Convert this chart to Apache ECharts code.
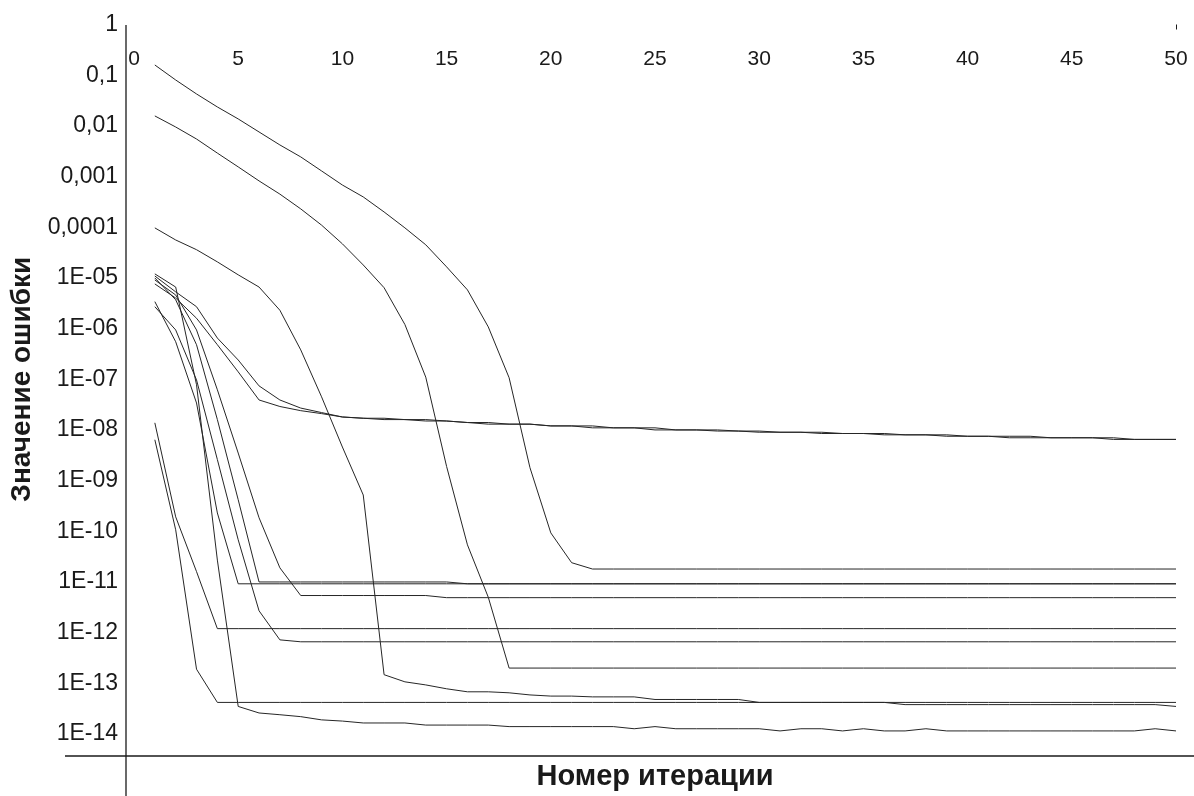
<!DOCTYPE html>
<html>
<head>
<meta charset="utf-8">
<script src="https://cdn.jsdelivr.net/npm/echarts@6/dist/echarts.min.js"></script>
<style>
  html, body { margin: 0; padding: 0; background: #fff; }
  #chart { width: 1194px; height: 796px; }
</style>
</head>
<body>
<div id="chart"></div>
<script>
// Iteration numbers (x) and tick labels
const iterations = [1,2,3,4,5,6,7,8,9,10,11,12,13,14,15,16,17,18,19,20,21,22,23,24,25,
                    26,27,28,29,30,31,32,33,34,35,36,37,38,39,40,41,42,43,44,45,46,47,48,49,50];
const xTickLabels = ['0','5','10','15','20','25','30','35','40','45','50'];
const yTickLabels = ['1','0,1','0,01','0,001','0,0001','1E-05','1E-06','1E-07','1E-08',
                     '1E-09','1E-10','1E-11','1E-12','1E-13','1E-14'];

// Error value per iteration, one array per run
const runA = [0.159,0.0804,0.0426,0.0236,0.0137,0.00758,0.0042,0.00244,0.00129,6.8e-4,
  3.96e-4,2.0e-4,9.7e-5,4.5e-5,1.65e-5,5.8e-6,1.08e-6,1.07e-7,1.8e-9,9.3e-11,
  2.4e-11,1.8e-11,1.8e-11,1.8e-11,1.8e-11,1.8e-11,1.8e-11,1.8e-11,1.8e-11,1.8e-11,
  1.8e-11,1.8e-11,1.8e-11,1.8e-11,1.8e-11,1.8e-11,1.8e-11,1.8e-11,1.8e-11,1.8e-11,
  1.8e-11,1.8e-11,1.8e-11,1.8e-11,1.8e-11,1.8e-11,1.8e-11,1.8e-11,1.8e-11,1.8e-11];
const runB = [0.0157,0.0095,0.0055,0.0029,0.00155,8.2e-4,4.5e-4,2.3e-4,1.1e-4,4.7e-5,
  1.8e-5,6.4e-6,1.2e-6,1.1e-7,1.9e-9,5.4e-11,5.0e-12,2.0e-13,2.0e-13,2.0e-13,
  2.0e-13,2.0e-13,2.0e-13,2.0e-13,2.0e-13,2.0e-13,2.0e-13,2.0e-13,2.0e-13,2.0e-13,
  2.0e-13,2.0e-13,2.0e-13,2.0e-13,2.0e-13,2.0e-13,2.0e-13,2.0e-13,2.0e-13,2.0e-13,
  2.0e-13,2.0e-13,2.0e-13,2.0e-13,2.0e-13,2.0e-13,2.0e-13,2.0e-13,2.0e-13,2.0e-13];
const runC = [9.7e-5,5.6e-5,3.6e-5,2.07e-5,1.15e-5,6.6e-6,2.3e-6,3.8e-7,4.5e-8,4.6e-9,
  5.2e-10,1.48e-13,1.07e-13,9.3e-14,7.8e-14,6.8e-14,6.8e-14,6.5e-14,5.9e-14,5.6e-14,
  5.6e-14,5.4e-14,5.4e-14,5.4e-14,4.8e-14,4.8e-14,4.8e-14,4.8e-14,4.8e-14,4.2e-14,
  4.2e-14,4.2e-14,4.2e-14,4.2e-14,4.2e-14,4.2e-14,3.8e-14,3.8e-14,3.8e-14,3.8e-14,
  3.8e-14,3.8e-14,3.8e-14,3.8e-14,3.8e-14,3.8e-14,3.8e-14,3.8e-14,3.8e-14,3.5e-14];
const runD = [1.09e-5,5.3e-6,2.7e-6,6.5e-7,2.4e-7,7.4e-8,3.9e-8,2.7e-8,2.2e-8,1.8e-8,
  1.7e-8,1.7e-8,1.6e-8,1.6e-8,1.5e-8,1.4e-8,1.4e-8,1.3e-8,1.3e-8,1.2e-8,
  1.2e-8,1.2e-8,1.1e-8,1.1e-8,1.1e-8,1.0e-8,1.0e-8,1.0e-8,9.5e-9,9.5e-9,
  9.0e-9,9.0e-9,9.0e-9,8.5e-9,8.5e-9,8.5e-9,8.0e-9,8.0e-9,8.0e-9,7.5e-9,
  7.5e-9,7.5e-9,7.5e-9,7.0e-9,7.0e-9,7.0e-9,7.0e-9,6.5e-9,6.5e-9,6.5e-9];
const runE = [7.6e-6,4.0e-6,1.6e-6,4.8e-7,1.4e-7,3.9e-8,2.9e-8,2.4e-8,2.1e-8,1.8e-8,
  1.7e-8,1.6e-8,1.6e-8,1.5e-8,1.5e-8,1.4e-8,1.3e-8,1.3e-8,1.3e-8,1.2e-8,
  1.2e-8,1.1e-8,1.1e-8,1.1e-8,1.0e-8,1.0e-8,1.0e-8,9.5e-9,9.5e-9,9.0e-9,
  9.0e-9,9.0e-9,8.5e-9,8.5e-9,8.5e-9,8.0e-9,8.0e-9,8.0e-9,7.5e-9,7.5e-9,
  7.5e-9,7.0e-9,7.0e-9,7.0e-9,7.0e-9,7.0e-9,6.5e-9,6.5e-9,6.5e-9,6.5e-9];
const runF = [1.38e-8,1.93e-10,1.6e-11,1.2e-12,1.2e-12,1.2e-12,1.2e-12,1.2e-12,1.2e-12,1.2e-12,
  1.2e-12,1.2e-12,1.2e-12,1.2e-12,1.2e-12,1.2e-12,1.2e-12,1.2e-12,1.2e-12,1.2e-12,
  1.2e-12,1.2e-12,1.2e-12,1.2e-12,1.2e-12,1.2e-12,1.2e-12,1.2e-12,1.2e-12,1.2e-12,
  1.2e-12,1.2e-12,1.2e-12,1.2e-12,1.2e-12,1.2e-12,1.2e-12,1.2e-12,1.2e-12,1.2e-12,
  1.2e-12,1.2e-12,1.2e-12,1.2e-12,1.2e-12,1.2e-12,1.2e-12,1.2e-12,1.2e-12,1.2e-12];
const runG = [6.4e-9,1.07e-10,1.9e-13,4.2e-14,4.2e-14,4.2e-14,4.2e-14,4.2e-14,4.2e-14,4.2e-14,
  4.2e-14,4.2e-14,4.2e-14,4.2e-14,4.2e-14,4.2e-14,4.2e-14,4.2e-14,4.2e-14,4.2e-14,
  4.2e-14,4.2e-14,4.2e-14,4.2e-14,4.2e-14,4.2e-14,4.2e-14,4.2e-14,4.2e-14,4.2e-14,
  4.2e-14,4.2e-14,4.2e-14,4.2e-14,4.2e-14,4.2e-14,4.2e-14,4.2e-14,4.2e-14,4.2e-14,
  4.2e-14,4.2e-14,4.2e-14,4.2e-14,4.2e-14,4.2e-14,4.2e-14,4.2e-14,4.2e-14,4.2e-14];
const runH = [1.2e-5,6.6e-6,7.8e-8,2.7e-11,3.5e-14,2.6e-14,2.4e-14,2.2e-14,1.9e-14,1.8e-14,
  1.65e-14,1.65e-14,1.65e-14,1.5e-14,1.5e-14,1.5e-14,1.5e-14,1.4e-14,1.4e-14,1.4e-14,
  1.4e-14,1.4e-14,1.4e-14,1.27e-14,1.4e-14,1.27e-14,1.27e-14,1.27e-14,1.27e-14,1.27e-14,
  1.15e-14,1.27e-14,1.27e-14,1.15e-14,1.27e-14,1.15e-14,1.15e-14,1.27e-14,1.15e-14,1.15e-14,
  1.15e-14,1.15e-14,1.15e-14,1.15e-14,1.15e-14,1.15e-14,1.15e-14,1.15e-14,1.27e-14,1.15e-14];
const runI = [3.4e-6,5.5e-7,3.4e-8,2.3e-10,9.2e-12,9.2e-12,9.2e-12,9.2e-12,9.2e-12,9.2e-12,
  9.2e-12,9.2e-12,9.2e-12,9.2e-12,9.2e-12,9.2e-12,9.2e-12,9.2e-12,9.2e-12,9.2e-12,
  9.2e-12,9.2e-12,9.2e-12,9.2e-12,9.2e-12,9.2e-12,9.2e-12,9.2e-12,9.2e-12,9.2e-12,
  9.2e-12,9.2e-12,9.2e-12,9.2e-12,9.2e-12,9.2e-12,9.2e-12,9.2e-12,9.2e-12,9.2e-12,
  9.2e-12,9.2e-12,9.2e-12,9.2e-12,9.2e-12,9.2e-12,9.2e-12,9.2e-12,9.2e-12,9.2e-12];
const runJ = [1.0e-5,3.7e-6,4.8e-7,1.6e-8,4.2e-10,1.0e-11,1.0e-11,1.0e-11,1.0e-11,1.0e-11,
  1.0e-11,1.0e-11,1.0e-11,1.0e-11,1.0e-11,9.2e-12,9.2e-12,9.2e-12,9.2e-12,9.2e-12,
  9.2e-12,9.2e-12,9.2e-12,9.2e-12,9.2e-12,9.2e-12,9.2e-12,9.2e-12,9.2e-12,9.2e-12,
  9.2e-12,9.2e-12,9.2e-12,9.2e-12,9.2e-12,9.2e-12,9.2e-12,9.2e-12,9.2e-12,9.2e-12,
  9.2e-12,9.2e-12,9.2e-12,9.2e-12,9.2e-12,9.2e-12,9.2e-12,9.2e-12,9.2e-12,9.2e-12];
const runK = [9.1e-6,4.6e-6,9.4e-7,6.2e-8,3.5e-9,1.85e-10,1.9e-11,5.4e-12,5.4e-12,5.4e-12,
  5.4e-12,5.4e-12,5.4e-12,5.4e-12,4.9e-12,4.9e-12,4.9e-12,4.9e-12,4.9e-12,4.9e-12,
  4.9e-12,4.9e-12,4.9e-12,4.9e-12,4.9e-12,4.9e-12,4.9e-12,4.9e-12,4.9e-12,4.9e-12,
  4.9e-12,4.9e-12,4.9e-12,4.9e-12,4.9e-12,4.9e-12,4.9e-12,4.9e-12,4.9e-12,4.9e-12,
  4.9e-12,4.9e-12,4.9e-12,4.9e-12,4.9e-12,4.9e-12,4.9e-12,4.9e-12,4.9e-12,4.9e-12];
const runL = [2.7e-6,9.4e-7,9.7e-8,2.6e-9,6.8e-11,2.7e-12,7.2e-13,6.6e-13,6.6e-13,6.6e-13,
  6.6e-13,6.6e-13,6.6e-13,6.6e-13,6.6e-13,6.6e-13,6.6e-13,6.6e-13,6.6e-13,6.6e-13,
  6.6e-13,6.6e-13,6.6e-13,6.6e-13,6.6e-13,6.6e-13,6.6e-13,6.6e-13,6.6e-13,6.6e-13,
  6.6e-13,6.6e-13,6.6e-13,6.6e-13,6.6e-13,6.6e-13,6.6e-13,6.6e-13,6.6e-13,6.6e-13,
  6.6e-13,6.6e-13,6.6e-13,6.6e-13,6.6e-13,6.6e-13,6.6e-13,6.6e-13,6.6e-13,6.6e-13];

const runs = [runA, runB, runC, runD, runE, runF, runG, runH, runI, runJ, runK, runL];

const FONT = '"Liberation Sans", Arial, sans-serif';
const INK = '#1a1a1a';

const chart = echarts.init(document.getElementById('chart'), null, { renderer: 'canvas' });

const series = runs.map((vals, k) => ({
  type: 'line',
  name: 'run' + (k + 1),
  data: iterations.map((it, i) => [it, vals[i]]),
  showSymbol: false,
  symbol: 'none',
  lineStyle: { color: '#262626', width: 1 },
  emphasis: { disabled: true },
  silent: true,
  z: 3
}));

chart.setOption({
  animation: false,
  backgroundColor: '#ffffff',
  grid: { left: 134, right: 18, top: 24.5, bottom: 61.7, containLabel: false },
  xAxis: [
    {
      type: 'value',
      position: 'top',
      min: 0,
      max: 50,
      interval: 5,
      axisLine: { show: false },
      axisTick: { show: true, inside: true, length: 5, customValues: [50],
                  lineStyle: { color: INK, width: 1 } },
      splitLine: { show: false },
      axisLabel: {
        inside: true,
        margin: 24,
        fontFamily: FONT,
        fontSize: 21,
        color: INK,
        formatter: (v) => xTickLabels[Math.round(v / 5)]
      }
    },
    {
      type: 'value',
      position: 'bottom',
      min: 0,
      max: 50,
      axisLine: { show: false },
      axisTick: { show: false },
      axisLabel: { show: false },
      splitLine: { show: false },
      name: 'Номер итерации',
      nameLocation: 'middle',
      nameGap: 28,
      nameTextStyle: { fontFamily: FONT, fontSize: 29, fontWeight: 'bold', color: INK }
    }
  ],
  yAxis: {
    type: 'log',
    logBase: 10,
    min: 1e-14,
    max: 1,
    interval: 1,
    offset: 8,
    axisLine: { show: false },
    axisTick: { show: false },
    minorTick: { show: false },
    splitLine: { show: false },
    axisLabel: {
      margin: 8,
      interval: 0,
      hideOverlap: false,
      fontFamily: FONT,
      fontSize: 23,
      color: INK,
      formatter: (v) => yTickLabels[-Math.round(Math.log10(v))] || ''
    },
    name: 'Значение ошибки',
    nameLocation: 'middle',
    nameGap: 90,
    nameRotate: 90,
    nameTextStyle: { fontFamily: FONT, fontSize: 28, fontWeight: 'bold', color: INK }
  },
  graphic: [
    { type: 'line', silent: true, z: 10,
      shape: { x1: 126, y1: 25, x2: 126, y2: 796 },
      style: { stroke: INK, lineWidth: 1.3 } },
    { type: 'line', silent: true, z: 10,
      shape: { x1: 65, y1: 756, x2: 1194, y2: 756 },
      style: { stroke: INK, lineWidth: 1.3 } }
  ],
  series: series
});
</script>
</body>
</html>
